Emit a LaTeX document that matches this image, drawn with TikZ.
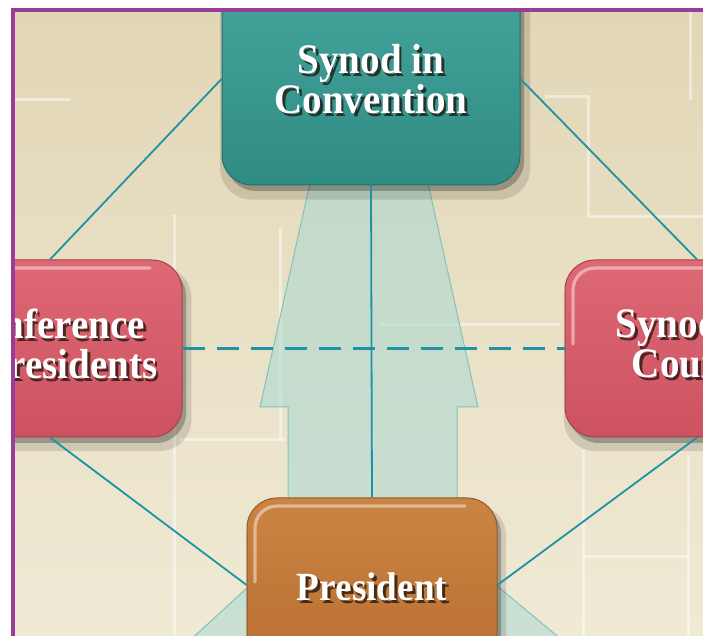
\documentclass[tikz,border=0pt]{standalone}
\usepackage{fontspec}
\newfontfamily\labelfont[FakeStretch=0.93]{Liberation Serif Bold}
\usepackage{xcolor}
\usetikzlibrary{shadows, calc}

\definecolor{paperdark}{HTML}{E2D6B6}
\definecolor{paperlight}{HTML}{F0EAD5}
\definecolor{tealtop}{HTML}{45A59D}
\definecolor{tealbottom}{HTML}{2F8C84}
\definecolor{redtop}{HTML}{DF6875}
\definecolor{redbottom}{HTML}{CC5260}
\definecolor{browntop}{HTML}{CA8443}
\definecolor{brownbottom}{HTML}{B96F32}
\definecolor{linkblue}{HTML}{1E93A6}
\definecolor{glassfill}{HTML}{A3D8D3}
\definecolor{glassedge}{HTML}{7FC4BE}
\definecolor{framepurple}{HTML}{9A3C9A}

\begin{document}
\begin{tikzpicture}[x=0.5pt, y=-0.5pt]
		\tikzstyle{unitbox}=[rounded corners=15pt, line width=0.5pt,
			general shadow={shadow scale=1.04, shadow xshift=2pt, shadow yshift=-5pt, opacity=0.12, fill=black},
			general shadow={shadow xshift=2pt, shadow yshift=-3pt, opacity=0.25, fill=black}]
		\tikzstyle{glossy}=[path picture={
				\draw[white, opacity=0.45, line width=1.6pt, line cap=round, sharp corners]
					([shift={(4pt,-42pt)}]path picture bounding box.north west)
					-- ([shift={(4pt,-15pt)}]path picture bounding box.north west)
					arc[start angle=180, end angle=90, radius=11pt]
					-- ([shift={(-16pt,-4pt)}]path picture bounding box.north east);
			}]
		\tikzstyle{conventionbox}=[unitbox, top color=tealtop, bottom color=tealbottom, draw=tealbottom!80!black, minimum width=149pt, minimum height=106pt]
		\tikzstyle{councilbox}=[unitbox, glossy, top color=redtop, bottom color=redbottom, draw=redbottom!80!black, minimum width=132pt, minimum height=88.5pt]
		\tikzstyle{presidentbox}=[unitbox, glossy, top color=browntop, bottom color=brownbottom, draw=brownbottom!80!black, minimum width=125pt, minimum height=87pt]
		\tikzstyle{boxtext}=[text=white, font={\labelfont\fontsize{21}{20}\selectfont}, align=center, inner sep=0pt]
		\tikzstyle{boxtextshade}=[boxtext, text=black!85!brown, opacity=0.75]
		\tikzstyle{link}=[draw=linkblue, line width=0.9pt]
		\tikzstyle{paperrule}=[white, opacity=0.45, line width=1.5pt]
		\tikzstyle{glass}=[fill=glassfill, fill opacity=0.5, draw=glassedge, line width=0.5pt]
		
		\useasboundingbox (0,0) rectangle (703,636);
		\fill[white] (0,0) rectangle (703,636);
		
		\begin{scope}
		\clip (12,10) rectangle (703,636);
		\shade[top color=paperdark, bottom color=paperlight] (12,10) rectangle (703,636);
		
		% faded rules of the paper underneath
		\draw[paperrule] (13,100) -- (70,100);
		\draw[paperrule] (174,215) -- (174,636);
		\draw[paperrule] (180,440) -- (285,440);
		\draw[paperrule] (280,228) -- (280,440);
		\draw[paperrule] (380,325) -- (560,325);
		\draw[paperrule] (545,97) -- (588,97) -- (588,217) -- (703,217);
		\draw[paperrule] (690,10) -- (690,100);
		\draw[paperrule] (583,450) -- (583,636);
		\draw[paperrule] (688,455) -- (688,636);
		\draw[paperrule] (583,557) -- (688,557);
		
		% see-through arrows behind the units
		\path[glass] (369,-81) -- (478,407) -- (457,407) -- (457,520) -- (288,520) -- (288,407) -- (260,407) -- cycle;
		\path[glass] (321,520) -- (418,520) -- (634,700) -- (125,700) -- cycle;
		
		% the four units
		\node[conventionbox] (conv) at (371,79) {};
		\node[councilbox] (cop) at (50,348.5) {};
		\node[councilbox] (sc) at (697,348.5) {};
		\node[presidentbox] (pres) at (372,585) {};
		
		\foreach \nd/\dy/\txt in {conv/0/{Synod in\\Convention}, cop/-5/{Conference\\of Presidents}, sc/-5/{Synodical\\Council}, pres/2/{\fontsize{20}{20}\selectfont President}} {
			\node[boxtextshade] (\nd-shade) at ([shift={(1.3pt,-1.5pt)}]$(\nd.center)+(0,\dy)$) {\txt};
			\node[boxtext] (\nd-label) at ($(\nd.center)+(0,\dy)$) {\txt};
		}
		
		% lines between the units
		\draw[link] (conv.west) -- (cop.north);
		\draw[link] (conv.east) -- (sc.north);
		\draw[link] (cop.south) -- (pres.west);
		\draw[link] (sc.south) -- (pres.east);
		\draw[link] (conv.south) -- (pres.north);
		\draw[link, line width=1.3pt, dash pattern=on 11pt off 6pt] (cop.east) -- (sc.west);
		\end{scope}
		
		\draw[framepurple, line width=2pt] (13,660) -- (13,10) -- (720,10);
\end{tikzpicture}
\end{document}
